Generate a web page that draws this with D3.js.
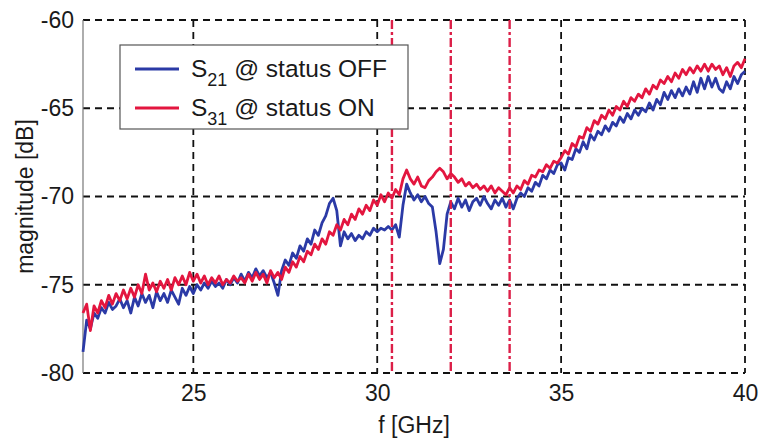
<!DOCTYPE html>
<html>
<head>
<meta charset="utf-8">
<script src="https://cdn.jsdelivr.net/npm/d3@7"></script>
<style>
  body { margin: 0; background: #fff; }
  svg text { font-family: "Liberation Sans", Arial, sans-serif; fill: #1a1a1a; }
</style>
</head>
<body>
<div id="chart"></div>
<script>
// frequency grid, GHz
const freq = d3.range(0, 181).map(i => +(22 + i * 0.1).toFixed(1));

// S21 @ status OFF, dB
const s21Off = [
  -78.8, -77.0, -77.5, -76.6, -76.9, -76.3, -76.6, -76.0, -76.4, -76.2,
  -75.8, -76.3, -75.9, -76.6, -75.7, -76.2, -75.5, -76.0, -75.6, -76.3,
  -75.4, -75.9, -75.5, -76.0, -75.3, -75.7, -76.1, -75.2, -75.6, -75.1,
  -75.5, -75.0, -75.3, -74.9, -75.2, -74.8, -75.1, -74.9, -75.2, -74.7,
  -75.0, -74.6, -74.9, -74.4, -74.8, -74.3, -74.6, -74.1, -74.5, -74.2,
  -74.6, -74.3, -74.9, -75.6, -74.2, -73.6, -73.9, -73.2, -73.5, -72.8,
  -73.1, -72.4, -72.7, -71.9, -72.2, -71.5, -71.1, -70.4, -70.1, -70.8,
  -72.8, -72.0, -72.4, -72.1, -72.5, -72.2, -72.4, -72.0, -72.2, -71.8,
  -72.0, -71.8, -71.9, -71.7, -71.9, -71.6, -72.3, -70.5, -69.3, -69.8,
  -70.2, -69.9, -70.3, -70.0, -70.4, -70.6, -72.0, -73.8, -73.0, -71.0,
  -70.3, -70.7, -70.1, -70.6, -70.2, -70.8, -70.3, -70.1, -70.5, -70.0,
  -70.4, -70.7, -70.2, -70.5, -70.1, -70.6, -70.2, -70.7, -70.1, -69.8,
  -70.0, -69.5, -69.7, -69.2, -69.4, -68.8, -69.0, -68.5, -68.7, -68.2,
  -68.1, -68.5, -67.8, -67.9, -67.3, -67.5, -66.9, -67.3, -66.5, -66.8,
  -66.3, -66.5, -66.0, -66.3, -65.8, -66.0, -65.5, -65.8, -65.3, -65.6,
  -65.1, -65.4, -65.0, -65.2, -64.7, -65.1, -64.5, -64.8, -64.1, -64.5,
  -64.0, -64.4, -63.9, -64.3, -63.8, -64.2, -63.5, -64.1, -63.3, -63.9,
  -63.2, -63.8, -63.3, -63.9, -64.1, -63.5, -63.9, -63.2, -63.6, -63.1,
  -62.9
];

// S31 @ status ON, dB
const s31On = [
  -76.6, -76.1, -77.6, -76.2, -76.6, -75.9, -76.3, -75.6, -76.1, -75.5,
  -75.9, -75.3, -75.8, -75.2, -75.7, -75.0, -75.5, -74.4, -75.3, -74.9,
  -75.4, -74.8, -75.2, -74.7, -75.3, -74.6, -75.0, -74.5, -75.0, -74.3,
  -74.8, -74.4, -74.9, -74.5, -75.0, -74.6, -74.9, -74.5, -75.0, -74.7,
  -74.9, -74.5, -74.8, -74.6, -74.9, -74.4, -74.8, -74.3, -74.7, -74.4,
  -74.9, -74.2, -74.6, -74.3, -74.7, -74.0, -74.3, -73.7, -74.0, -73.4,
  -73.7, -73.1, -73.3, -72.7, -73.0, -72.4, -72.7, -72.0, -72.2, -71.6,
  -71.9, -71.3, -71.6, -71.0, -71.3, -70.7, -71.0, -70.5, -70.8, -70.2,
  -70.5, -69.9, -70.3, -69.8, -70.1, -69.6, -69.9, -69.0, -68.5, -69.0,
  -69.3, -68.9, -69.4, -69.5, -69.1, -68.9, -68.6, -68.4, -68.6, -69.0,
  -68.7, -68.9, -69.2, -69.0, -69.4, -69.2, -69.5, -69.3, -69.6, -69.4,
  -69.7, -69.4, -69.8, -69.5, -69.7, -69.9, -69.5, -69.8, -69.4, -69.6,
  -69.1, -69.3, -68.8, -68.9, -68.5, -68.6, -68.2, -68.4, -68.0, -68.1,
  -67.8, -67.4, -67.6, -67.0, -67.2, -66.6, -66.7, -66.1, -66.3, -65.7,
  -65.9, -65.4, -65.6, -65.1, -65.4, -64.9, -65.1, -64.6, -64.9, -64.4,
  -64.6, -64.2, -64.4, -63.9, -64.2, -63.7, -63.9, -63.4, -63.6, -63.2,
  -63.5, -63.0, -63.3, -62.8, -63.1, -62.7, -63.0, -62.6, -62.9, -62.5,
  -62.9, -62.5, -62.8, -62.6, -63.1, -62.7, -63.2, -62.6, -62.4, -62.7,
  -62.2
];

// red marker lines, GHz
const markers = [30.4, 32.0, 33.6];

const xTicks = [25, 30, 35, 40];
const yTicks = [-80, -75, -70, -65, -60];

const seriesNames = ["OFF", "ON"];
const seriesColors = ["#2b3aa6", "#e3163f"];

const width = 762, height = 443;
const margin = { top: 20, right: 17, bottom: 70, left: 83 };
const innerW = width - margin.left - margin.right;
const innerH = height - margin.top - margin.bottom;

const svg = d3.select("#chart").append("svg")
    .attr("width", width)
    .attr("height", height);

const g = svg.append("g")
    .attr("transform", "translate(" + margin.left + "," + margin.top + ")");

const x = d3.scaleLinear().domain([22, 40]).range([0, innerW]);
const y = d3.scaleLinear().domain([-80, -60]).range([innerH, 0]);

/* ------- GRID -------*/
g.append("g").selectAll("line")
    .data(yTicks)
    .join("line")
    .attr("x1", 0).attr("x2", innerW)
    .attr("y1", d => y(d)).attr("y2", d => y(d))
    .attr("stroke", "#111")
    .attr("stroke-width", 1.8)
    .attr("stroke-dasharray", "7,5");

g.append("g").selectAll("line")
    .data(xTicks)
    .join("line")
    .attr("x1", d => x(d)).attr("x2", d => x(d))
    .attr("y1", 0).attr("y2", innerH)
    .attr("stroke", "#111")
    .attr("stroke-width", 1.8)
    .attr("stroke-dasharray", "7,5");

// left axis edge
g.append("line")
    .attr("x1", 0).attr("x2", 0)
    .attr("y1", 0).attr("y2", innerH)
    .attr("stroke", "#777")
    .attr("stroke-width", 1.2);

/* ------- TICK LABELS -------*/
const xAxis = g.append("g")
    .attr("transform", "translate(0," + innerH + ")")
    .call(d3.axisBottom(x).tickValues(xTicks).tickSize(0).tickPadding(12));
xAxis.select(".domain").remove();
xAxis.selectAll("text").style("font-size", "23px").attr("fill", "#1a1a1a");

const yAxis = g.append("g")
    .call(d3.axisLeft(y).tickValues(yTicks).tickSize(0).tickPadding(9));
yAxis.select(".domain").remove();
yAxis.selectAll("text").style("font-size", "23px").attr("fill", "#1a1a1a")
    .text(d => d);

/* ------- CURVES -------*/
const line = d3.line()
    .x((d, i) => x(freq[i]))
    .y(d => y(d));

[s21Off, s31On].forEach((vals, k) => {
    g.append("path")
        .datum(vals)
        .attr("fill", "none")
        .attr("stroke", seriesColors[k])
        .attr("stroke-width", 2.8)
        .attr("stroke-linejoin", "round")
        .attr("d", line);
});

/* ------- MARKERS -------*/
g.append("g").selectAll("line")
    .data(markers)
    .join("line")
    .attr("x1", d => x(d)).attr("x2", d => x(d))
    .attr("y1", 0).attr("y2", innerH)
    .attr("stroke", "#dc1f48")
    .attr("stroke-width", 2.4)
    .attr("stroke-dasharray", "9,3,3,3");

/* ------- LEGEND -------*/
const legend = g.append("g").attr("transform", "translate(37,25)");
legend.append("rect")
    .attr("width", 288).attr("height", 84)
    .attr("fill", "#fff")
    .attr("stroke", "#555")
    .attr("stroke-width", 1.2);

const subs = ["21", "31"];
seriesNames.forEach((name, k) => {
    const row = legend.append("g").attr("transform", "translate(0," + (24 + k * 39) + ")");
    row.append("line")
        .attr("x1", 15).attr("x2", 59)
        .attr("stroke", seriesColors[k])
        .attr("stroke-width", 2.8);
    const t = row.append("text")
        .attr("x", 71).attr("y", 8)
        .style("font-size", "24.5px");
    t.append("tspan").text("S");
    t.append("tspan").attr("dy", 9).style("font-size", "18px").text(subs[k]);
    t.append("tspan").attr("dy", -9).text(" @ status " + name);
});

/* ------- AXIS TITLES -------*/
svg.append("text")
    .attr("x", 414).attr("y", 433)
    .attr("text-anchor", "middle")
    .style("font-size", "23px")
    .text("f [GHz]");

svg.append("text")
    .attr("transform", "translate(33," + (margin.top + innerH / 2) + ") rotate(-90)")
    .attr("text-anchor", "middle")
    .style("font-size", "23px")
    .text("magnitude [dB]");
</script>
</body>
</html>
